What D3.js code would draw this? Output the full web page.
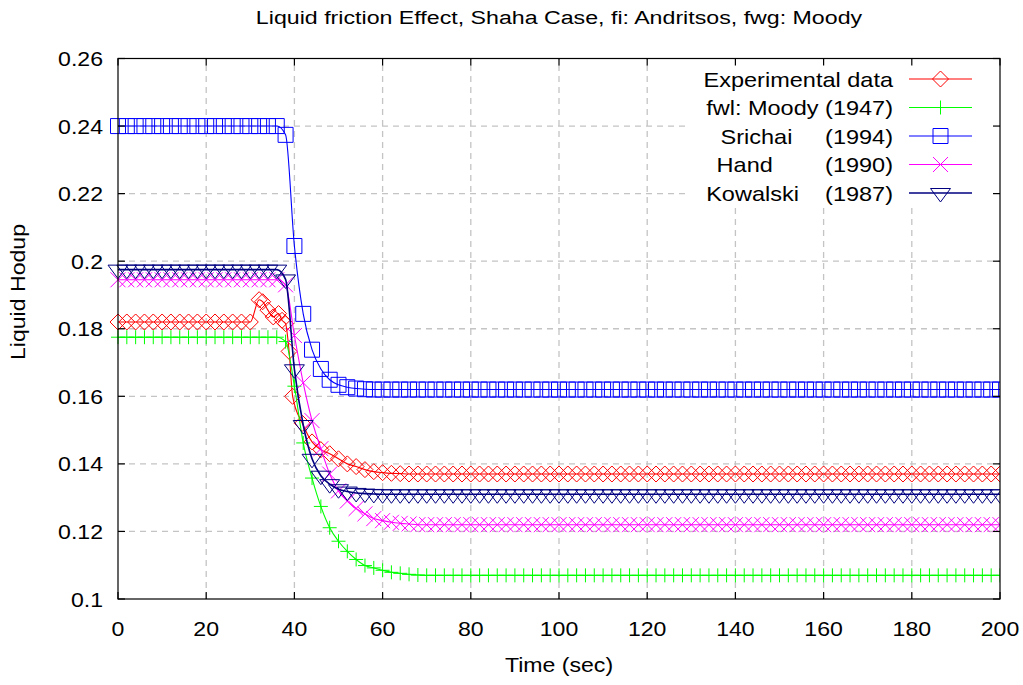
<!DOCTYPE html>
<html>
<head>
<meta charset="utf-8">
<script src="https://cdn.jsdelivr.net/npm/d3@7"></script>
<style>
  html, body { margin: 0; padding: 0; background: #fff; }
  svg { display: block; font-family: "Liberation Sans", Arial, Helvetica, sans-serif; }
</style>
</head>
<body>
<svg id="chart" width="1023" height="685"></svg>
<script>
// ---- data -------------------------------------------------------------
const chartTitle = "Liquid friction Effect, Shaha Case, fi: Andritsos, fwg: Moody";
const xLabel = "Time (sec)";
const yLabel = "Liquid Hodup";

const xTicks = [0, 20, 40, 60, 80, 100, 120, 140, 160, 180, 200];
const yTicks = [0.1, 0.12, 0.14, 0.16, 0.18, 0.2, 0.22, 0.24, 0.26];
const yTickLabels = ["0.1", "0.12", "0.14", "0.16", "0.18", "0.2", "0.22", "0.24", "0.26"];

// simulation output times (s)
const simTime = [
  0, 2, 4, 6, 8, 10, 12, 14, 16, 18, 20, 22, 24, 26, 28, 30, 32, 34, 36, 38,
  40, 42, 44, 46, 48, 50, 52, 54, 56, 58, 60, 62, 64, 66, 68, 70, 72, 74, 76, 78,
  80, 82, 84, 86, 88, 90, 92, 94, 96, 98, 100, 102, 104, 106, 108, 110, 112, 114, 116, 118,
  120, 122, 124, 126, 128, 130, 132, 134, 136, 138, 140, 142, 144, 146, 148, 150, 152, 154, 156, 158,
  160, 162, 164, 166, 168, 170, 172, 174, 176, 178, 180, 182, 184, 186, 188, 190, 192, 194, 196, 198,
  200
];

// fwl: Moody (1947)
const moody = [
  0.1775, 0.1775, 0.1775, 0.1775, 0.1775, 0.1775, 0.1775, 0.1775, 0.1775, 0.1775,
  0.1775, 0.1775, 0.1775, 0.1775, 0.1775, 0.1775, 0.1775, 0.1775, 0.1775, 0.1762,
  0.163, 0.1462, 0.1358, 0.1274, 0.1211, 0.1171, 0.1141, 0.1117, 0.1099, 0.1092,
  0.1085, 0.1079, 0.1076, 0.1073, 0.1071, 0.107, 0.107, 0.107, 0.107, 0.107,
  0.107, 0.107, 0.107, 0.107, 0.107, 0.107, 0.107, 0.107, 0.107, 0.107,
  0.107, 0.107, 0.107, 0.107, 0.107, 0.107, 0.107, 0.107, 0.107, 0.107,
  0.107, 0.107, 0.107, 0.107, 0.107, 0.107, 0.107, 0.107, 0.107, 0.107,
  0.107, 0.107, 0.107, 0.107, 0.107, 0.107, 0.107, 0.107, 0.107, 0.107,
  0.107, 0.107, 0.107, 0.107, 0.107, 0.107, 0.107, 0.107, 0.107, 0.107,
  0.107, 0.107, 0.107, 0.107, 0.107, 0.107, 0.107, 0.107, 0.107, 0.107,
  0.107
];

// Srichai (1994)
const srichai = [
  0.24, 0.24, 0.24, 0.24, 0.24, 0.24, 0.24, 0.24, 0.24, 0.24,
  0.24, 0.24, 0.24, 0.24, 0.24, 0.24, 0.24, 0.24, 0.24, 0.2374,
  0.2045, 0.1844, 0.1738, 0.1681, 0.1649, 0.1634, 0.1627, 0.1623, 0.1621, 0.162,
  0.162, 0.162, 0.162, 0.162, 0.162, 0.162, 0.162, 0.162, 0.162, 0.162,
  0.162, 0.162, 0.162, 0.162, 0.162, 0.162, 0.162, 0.162, 0.162, 0.162,
  0.162, 0.162, 0.162, 0.162, 0.162, 0.162, 0.162, 0.162, 0.162, 0.162,
  0.162, 0.162, 0.162, 0.162, 0.162, 0.162, 0.162, 0.162, 0.162, 0.162,
  0.162, 0.162, 0.162, 0.162, 0.162, 0.162, 0.162, 0.162, 0.162, 0.162,
  0.162, 0.162, 0.162, 0.162, 0.162, 0.162, 0.162, 0.162, 0.162, 0.162,
  0.162, 0.162, 0.162, 0.162, 0.162, 0.162, 0.162, 0.162, 0.162, 0.162,
  0.162
];

// Hand (1990)
const hand = [
  0.1945, 0.1945, 0.1945, 0.1945, 0.1945, 0.1945, 0.1945, 0.1945, 0.1945, 0.1945,
  0.1945, 0.1945, 0.1945, 0.1945, 0.1945, 0.1945, 0.1945, 0.1945, 0.1945, 0.193,
  0.178, 0.164, 0.1528, 0.1445, 0.137, 0.132, 0.129, 0.1268, 0.1252, 0.1238,
  0.1232, 0.1227, 0.1224, 0.1222, 0.122, 0.122, 0.122, 0.122, 0.122, 0.122,
  0.122, 0.122, 0.122, 0.122, 0.122, 0.122, 0.122, 0.122, 0.122, 0.122,
  0.122, 0.122, 0.122, 0.122, 0.122, 0.122, 0.122, 0.122, 0.122, 0.122,
  0.122, 0.122, 0.122, 0.122, 0.122, 0.122, 0.122, 0.122, 0.122, 0.122,
  0.122, 0.122, 0.122, 0.122, 0.122, 0.122, 0.122, 0.122, 0.122, 0.122,
  0.122, 0.122, 0.122, 0.122, 0.122, 0.122, 0.122, 0.122, 0.122, 0.122,
  0.122, 0.122, 0.122, 0.122, 0.122, 0.122, 0.122, 0.122, 0.122, 0.122,
  0.122
];

// Kowalski (1987)
const kowalski = [
  0.1975, 0.1975, 0.1975, 0.1975, 0.1975, 0.1975, 0.1975, 0.1975, 0.1975, 0.1975,
  0.1975, 0.1975, 0.1975, 0.1975, 0.1975, 0.1975, 0.1975, 0.1975, 0.1975, 0.1946,
  0.168, 0.1515, 0.1415, 0.1365, 0.134, 0.1325, 0.1318, 0.1314, 0.1312, 0.1311,
  0.131, 0.131, 0.131, 0.131, 0.131, 0.131, 0.131, 0.131, 0.131, 0.131,
  0.131, 0.131, 0.131, 0.131, 0.131, 0.131, 0.131, 0.131, 0.131, 0.131,
  0.131, 0.131, 0.131, 0.131, 0.131, 0.131, 0.131, 0.131, 0.131, 0.131,
  0.131, 0.131, 0.131, 0.131, 0.131, 0.131, 0.131, 0.131, 0.131, 0.131,
  0.131, 0.131, 0.131, 0.131, 0.131, 0.131, 0.131, 0.131, 0.131, 0.131,
  0.131, 0.131, 0.131, 0.131, 0.131, 0.131, 0.131, 0.131, 0.131, 0.131,
  0.131, 0.131, 0.131, 0.131, 0.131, 0.131, 0.131, 0.131, 0.131, 0.131,
  0.131
];

// experimental measurements (own time base)
const expTime = [
  0, 2, 4, 6, 8, 10, 12, 14, 16, 18, 20, 22, 24, 26, 28, 30,
  32, 32.8, 34, 35.2, 36.4, 37.2, 38, 38.8, 39.6, 41.8, 44,
  46, 48, 50, 52, 54, 56, 58, 60, 62, 64, 66, 68, 70, 72, 74, 76, 78,
  80, 82, 84, 86, 88, 90, 92, 94, 96, 98, 100, 102, 104, 106, 108, 110, 112, 114, 116, 118,
  120, 122, 124, 126, 128, 130, 132, 134, 136, 138, 140, 142, 144, 146, 148, 150, 152, 154, 156, 158,
  160, 162, 164, 166, 168, 170, 172, 174, 176, 178, 180, 182, 184, 186, 188, 190, 192, 194, 196, 198,
  200
];
const expValue = [
  0.182, 0.182, 0.182, 0.182, 0.182, 0.182, 0.182, 0.182, 0.182, 0.182, 0.182, 0.182, 0.182, 0.182, 0.182, 0.182,
  0.1886, 0.188, 0.1855, 0.1835, 0.1845, 0.1825, 0.1815, 0.1733, 0.16, 0.152, 0.1465,
  0.1442, 0.143, 0.1415, 0.14, 0.1392, 0.1383, 0.1377, 0.1374, 0.1372, 0.1371, 0.137, 0.137, 0.137, 0.137, 0.137, 0.137, 0.137,
  0.137, 0.137, 0.137, 0.137, 0.137, 0.137, 0.137, 0.137, 0.137, 0.137, 0.137, 0.137, 0.137, 0.137, 0.137, 0.137, 0.137, 0.137, 0.137, 0.137,
  0.137, 0.137, 0.137, 0.137, 0.137, 0.137, 0.137, 0.137, 0.137, 0.137, 0.137, 0.137, 0.137, 0.137, 0.137, 0.137, 0.137, 0.137, 0.137, 0.137,
  0.137, 0.137, 0.137, 0.137, 0.137, 0.137, 0.137, 0.137, 0.137, 0.137, 0.137, 0.137, 0.137, 0.137, 0.137, 0.137, 0.137, 0.137, 0.137, 0.137,
  0.137
];

const seriesNames = [
  "Experimental data",
  "fwl: Moody (1947)",
  "Srichai     (1994)",
  "Hand        (1990)",
  "Kowalski    (1987)"
];
const seriesColors = ["#ff0000", "#00ff00", "#0000ff", "#ff00ff", "#000080"];
const seriesMarkers = ["diamond", "plus", "square", "cross", "triangleDown"];

// ---- layout -----------------------------------------------------------
const W = 1023, H = 685;
const plot = { left: 118, right: 1000, top: 58.5, bottom: 599 };
const tickLen = 7;
const textStretch = 1.1;

const svg = d3.select("#chart");

const x = d3.scaleLinear().domain([0, 200]).range([plot.left, plot.right]);
const y = d3.scaleLinear().domain([0.1, 0.26]).range([plot.bottom, plot.top]);

// marker outlines, centred on the data point
const markerPath = {
  diamond: "M0,-8L8,0L0,8L-8,0Z",
  plus: "M-7,0H7M0,-7V7",
  square: "M-7.5,-7.5H7.5V7.5H-7.5Z",
  cross: "M-7.5,-7.5L7.5,7.5M-7.5,7.5L7.5,-7.5",
  triangleDown: "M-10,-4.5H10L0,9Z"
};

// stretched text helper
function label(g, txt, px, py, opts) {
  const t = g.append("text")
    .attr("transform", `translate(${px},${py}) ${opts.rotate ? "rotate(" + opts.rotate + ")" : ""} scale(${opts.sx || 1},1)`)
    .attr("text-anchor", opts.anchor || "start")
    .attr("font-size", opts.size)
    .attr("fill", "#000")
    .text(txt);
  if (opts.pre) t.attr("xml:space", "preserve").style("white-space", "pre");
  return t;
}

// ---- grid -------------------------------------------------------------
const grid = svg.append("g")
  .attr("stroke", "#c4c4c4")
  .attr("stroke-width", 1.3)
  .attr("stroke-dasharray", "6,5");
grid.selectAll("line.gx")
  .data(xTicks.filter(v => v > 0 && v < 200))
  .join("line")
  .attr("x1", d => x(d)).attr("x2", d => x(d))
  .attr("y1", plot.bottom).attr("y2", plot.top);
grid.selectAll("line.gy")
  .data(yTicks.filter(v => v > 0.1 && v < 0.26))
  .join("line")
  .attr("y1", d => y(d)).attr("y2", d => y(d))
  .attr("x1", plot.left).attr("x2", plot.right);

// ---- legend background (opaque key) ----------------------------------
svg.append("rect")
  .attr("x", 688).attr("y", plot.top + 1)
  .attr("width", plot.right - 689).attr("height", 147)
  .attr("fill", "#fff");

// ---- series -----------------------------------------------------------
const seriesData = [
  expTime.map((t, i) => [t, expValue[i]]),
  simTime.map((t, i) => [t, moody[i]]),
  simTime.map((t, i) => [t, srichai[i]]),
  simTime.map((t, i) => [t, hand[i]]),
  simTime.map((t, i) => [t, kowalski[i]])
];

svg.append("clipPath").attr("id", "clipR")
  .append("rect").attr("x", 0).attr("y", 0).attr("width", plot.right).attr("height", H);

const line = d3.line().x(d => x(d[0])).y(d => y(d[1])).curve(d3.curveMonotoneX);
const dataLayer = svg.append("g").attr("clip-path", "url(#clipR)");

seriesData.forEach((pts, k) => {
  const g = dataLayer.append("g");
  g.append("path")
    .attr("d", line(pts))
    .attr("fill", "none")
    .attr("stroke", seriesColors[k])
    .attr("stroke-width", k === 4 ? 1.6 : 1.1);
  g.selectAll("path.m")
    .data(pts)
    .join("path")
    .attr("class", "m")
    .attr("transform", d => `translate(${x(d[0])},${y(d[1])})`)
    .attr("d", markerPath[seriesMarkers[k]])
    .attr("fill", "none")
    .attr("stroke", seriesColors[k])
    .attr("stroke-width", 1);
});

// ---- frame & ticks ----------------------------------------------------
const frame = svg.append("g").attr("stroke", "#000").attr("stroke-width", 1.2);
frame.append("rect")
  .attr("x", plot.left).attr("y", plot.top)
  .attr("width", plot.right - plot.left).attr("height", plot.bottom - plot.top)
  .attr("fill", "none");
xTicks.forEach(v => {
  frame.append("line").attr("x1", x(v)).attr("x2", x(v)).attr("y1", plot.bottom).attr("y2", plot.bottom - tickLen);
  frame.append("line").attr("x1", x(v)).attr("x2", x(v)).attr("y1", plot.top).attr("y2", plot.top + tickLen);
});
yTicks.forEach(v => {
  frame.append("line").attr("y1", y(v)).attr("y2", y(v)).attr("x1", plot.left).attr("x2", plot.left + tickLen);
  frame.append("line").attr("y1", y(v)).attr("y2", y(v)).attr("x1", plot.right).attr("x2", plot.right - tickLen);
});

// ---- text -------------------------------------------------------------
const txt = svg.append("g");
xTicks.forEach(v => label(txt, String(v), x(v), 636, { anchor: "middle", size: 21, sx: textStretch }));
yTicks.forEach((v, i) => label(txt, yTickLabels[i], 103, y(v) + 7.5, { anchor: "end", size: 21, sx: textStretch }));
label(txt, chartTitle, (plot.left + plot.right) / 2, 24, { anchor: "middle", size: 19, sx: 1.22 });
label(txt, xLabel, (plot.left + plot.right) / 2, 672, { anchor: "middle", size: 21, sx: textStretch });
label(txt, yLabel, 25, 292, { anchor: "middle", size: 21, sx: textStretch, rotate: -90 });

// ---- legend -----------------------------------------------------------
const legend = svg.append("g");
const legX0 = 909, legX1 = 972, legTextX = 893, legY0 = 79, legDy = 28.5;
seriesNames.forEach((name, k) => {
  const yy = legY0 + k * legDy;
  label(legend, name, legTextX, yy + 7.5, { anchor: "end", size: 21, sx: 1.12, pre: true });
  legend.append("line")
    .attr("x1", legX0).attr("x2", legX1).attr("y1", yy).attr("y2", yy)
    .attr("stroke", seriesColors[k]).attr("stroke-width", k === 4 ? 1.6 : 1.1);
  legend.append("path")
    .attr("transform", `translate(${(legX0 + legX1) / 2},${yy})`)
    .attr("d", markerPath[seriesMarkers[k]])
    .attr("fill", "none")
    .attr("stroke", seriesColors[k])
    .attr("stroke-width", 1);
});
</script>
</body>
</html>
